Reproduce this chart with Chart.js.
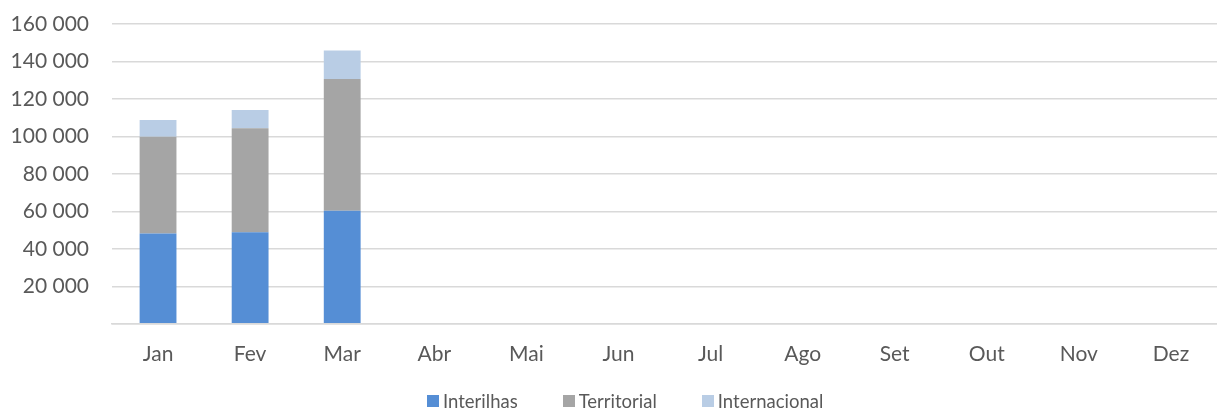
<!DOCTYPE html>
<html>
<head>
<meta charset="utf-8">
<script src="https://cdn.jsdelivr.net/npm/chart.js@4"></script>
<style>
  html, body { margin: 0; padding: 0; background: #fff; }
  #wrap { position: relative; width: 1217px; height: 409px; }
  #legenda {
    position: absolute; left: 427px; top: 390px; height: 22px;
    display: flex; align-items: center; gap: 45px;
    font-family: Lato, "Open Sans", sans-serif; font-size: 18.5px; color: #595959;
  }
  #legenda .item { display: flex; align-items: center; gap: 4px; }
  #legenda .caixa { width: 12px; height: 12px; }
</style>
</head>
<body>
<div id="wrap">
  <canvas id="chart"></canvas>
  <div id="legenda"></div>
</div>
<script>
// dados
const meses = ['Jan', 'Fev', 'Mar', 'Abr', 'Mai', 'Jun', 'Jul', 'Ago', 'Set', 'Out', 'Nov', 'Dez'];
const interilhas = [48200, 48800, 60400, null, null, null, null, null, null, null, null, null];
const territorial = [51600, 55600, 70200, null, null, null, null, null, null, null, null, null];
const internacional = [8900, 9700, 15300, null, null, null, null, null, null, null, null, null];

const fonte = 'Lato, "Open Sans", sans-serif';

function formatar(v) {
    if (v === 0) return '';
    return String(v).replace(/\B(?=(\d{3})+(?!\d))/g, ' ');
}

const grafico = new Chart(document.getElementById('chart'), {
    type: 'bar',
    data: {
        labels: meses,
        datasets: [
            { label: 'Interilhas', data: interilhas, backgroundColor: '#558ED5' },
            { label: 'Territorial', data: territorial, backgroundColor: '#A5A5A5' },
            { label: 'Internacional', data: internacional, backgroundColor: '#B9CDE5' }
        ]
    },
    options: {
        responsive: true,
        maintainAspectRatio: false,
        animation: false,
        layout: { padding: { left: 10, right: 0, top: 24, bottom: 24 } },
        datasets: { bar: { categoryPercentage: 1, barPercentage: 0.4 } },
        scales: {
            x: {
                stacked: true,
                grid: { display: false, drawTicks: false },
                border: { color: '#D9D9D9', width: 1.5 },
                ticks: { color: '#595959', font: { family: fonte, size: 21 }, padding: 18 }
            },
            y: {
                stacked: true,
                min: 0,
                max: 160000,
                afterFit: (escala) => {
                    escala.width = 102;
                    escala.paddingTop = 0;
                    escala.paddingBottom = 0;
                },
                grid: { color: '#D9D9D9', lineWidth: 1.5, drawTicks: false },
                border: { display: false },
                ticks: {
                    stepSize: 20000,
                    color: '#595959',
                    font: { family: fonte, size: 21 },
                    padding: 23,
                    callback: (v) => formatar(v)
                }
            }
        },
        plugins: {
            legend: { display: false },
            tooltip: { enabled: false }
        }
    }
});

// Legenda em HTML
const legendaDiv = document.getElementById('legenda');
grafico.data.datasets.forEach((ds) => {
    const item = document.createElement('div');
    item.className = 'item';
    item.innerHTML = `<span class="caixa" style="background:${ds.backgroundColor}"></span><span>${ds.label}</span>`;
    legendaDiv.appendChild(item);
});
</script>
</body>
</html>
